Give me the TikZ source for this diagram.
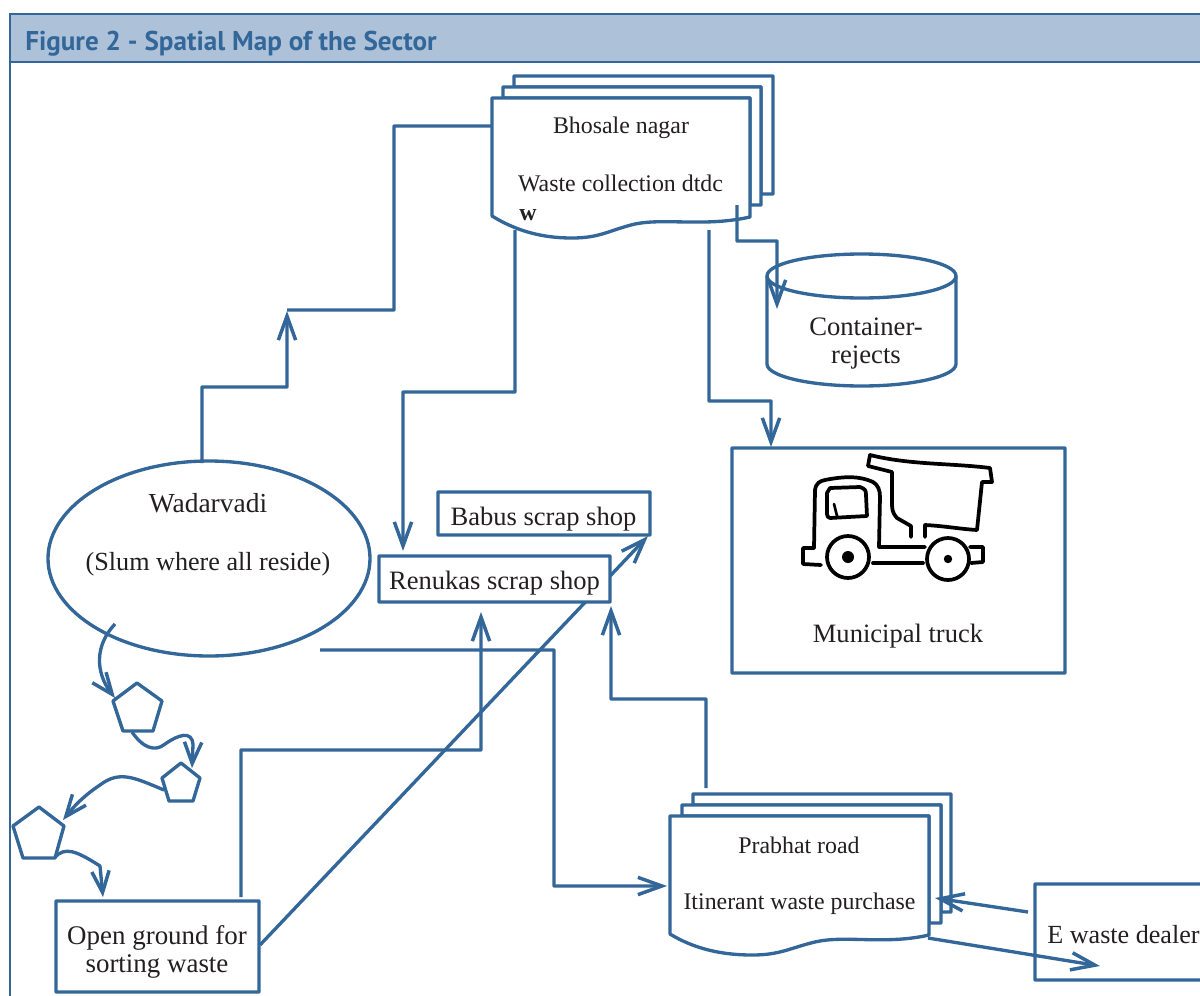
\documentclass[tikz,border=0pt]{standalone}
\usepackage{fontspec}
\setmainfont{Liberation Serif}
\newfontfamily\headfont{PT Sans}
\usetikzlibrary{arrows.meta}
\definecolor{lineblue}{HTML}{336699}
\definecolor{bandblue}{HTML}{ADC2D8}
\definecolor{inktext}{HTML}{231F20}
\tikzset{
  shapeline/.style={draw=lineblue,line width=2.5pt,line join=miter,fill=white,rounded corners=0.4pt},
  boxline/.style={draw=lineblue,line width=2.5pt,fill=white,inner sep=0pt,outer sep=0pt,anchor=north west,rounded corners=0.4pt},
  conn/.style={draw=lineblue,line width=2.5pt,line join=miter,rounded corners=0.4pt},
  arrowconn/.style={conn,-{Straight Barb[length=18pt,width=13pt,line width=2.6pt]}},
  curveconn/.style={conn,-{Straight Barb[length=16pt,width=13pt,line width=2.6pt]}},
  truckline/.style={draw=black,line width=2.8pt,line cap=round,line join=round},
  lab/.style={inner sep=0pt,text=inktext,font=\fontsize{19.9}{21}\selectfont,align=center},
  smalllab/.style={inner sep=0pt,text=inktext,font=\fontsize{17.9}{20}\selectfont,align=center},
}
\begin{document}
\begin{tikzpicture}[x=0.75pt,y=-0.75pt]
\useasboundingbox (0,0) rectangle (1200,996);
\clip (0,0) rectangle (1200,996);
% frame and band
\fill[white] (0,0) rectangle (1200,996);
\path[fill=bandblue,draw=lineblue,line width=0.9pt] (1201,14) -- (10,14) -- (10,62) -- (1201,62);
\draw[lineblue,line width=1.1pt] (10,62) -- (10,997);
\node[inner sep=0pt,anchor=west,text=lineblue,font=\headfont\bfseries\fontsize{20.35}{24}\selectfont] (title) at (25,44) {Figure 2 - Spatial Map of the Sector};

% the line to Babus runs behind the Renukas box
\coordinate (groundEast) at (260,945);
\coordinate (babusSW) at (648,536);
\draw[arrowconn] (groundEast) -- (babusSW);

% Bhosale nagar stacked document
\path[shapeline] (514,87) -- (514,76) -- (773,76) -- (773,194) -- (761,194) -- (761,87) -- cycle;
\path[shapeline] (503,98) -- (503,87) -- (761,87) -- (761,205) -- (750,205) -- (750,98) -- cycle;
\path[shapeline] (492,98) -- (750,98) -- (750,217) .. controls (705,227) and (665,218) .. (635,224) .. controls (610,230) and (600,238) .. (572,238) .. controls (540,238) and (515,230) .. (492,216) -- cycle;
\node[smalllab] (bhosale) at (621,128) {Bhosale nagar};
\node[smalllab] (wastecoll) at (620.5,183.5) {Waste collection dtdc};
\node[smalllab,font=\bfseries\fontsize{17.9}{20}\selectfont] (wasteW) at (528,215) {w};

% Container
\path[shapeline,rounded corners=0pt] (767,276) -- (767,364) arc[start angle=180,end angle=0,x radius=94.5,y radius=22] -- (956,276) arc[start angle=0,end angle=-180,x radius=94.5,y radius=22] -- cycle;
\draw[conn,rounded corners=0pt] (767,276) arc[start angle=180,end angle=0,x radius=94.5,y radius=22];
\node[lab,align=center,font=\fontsize{20}{21}\selectfont] (container) at (866,344) {Container-\\rejects};

% Municipal truck box
\node[boxline,minimum width=249.75pt,minimum height=168.75pt] (truckbox) at (732,448) {};
\node[lab] (municipal) at (898,636) {Municipal truck};
\draw[truckline] (911,537) -- (911,526) -- (897,518) .. controls (892,512) and (892,510) .. (892,500) -- (892,472) -- (868,466) -- (870,455) .. controls (910,465) and (950,463) .. (990,468) -- (992,482) -- (982,482) -- (977,530) .. controls (960,529) and (945,526) .. (925,525) -- (925,537);
\draw[truckline] (814,548) -- (815,490) .. controls (816,483) and (820,481) .. (825,480) .. controls (845,476) and (860,476) .. (873,482) .. controls (878,485) and (880,490) .. (880,497) -- (879,547) -- (925,547);
\draw[truckline] (873,563) -- (923,563);
\draw[truckline] (814,548) -- (803,548) -- (803,564) -- (821,565);
\draw[truckline] (970,547) -- (983,547) -- (983,562) -- (971,563);
\draw[truckline] (830,488) -- (860,487) .. controls (865,489) and (866,490) .. (866,495) -- (867,516) -- (830,518) .. controls (828,518) and (827,516) .. (827,514) -- (827,493) -- cycle;
\draw[truckline,line width=2pt] (834,504) -- (837,516);
\draw[truckline] (848,557) circle[radius=21];
\fill[black] (848,557) circle[radius=6];
\draw[truckline] (948,559) circle[radius=21];
\fill[black] (948,559) circle[radius=4.2];

% Wadarvadi
\path[shapeline] (209,558.5) ellipse[x radius=161,y radius=97.5];
\node[lab,font=\fontsize{20.6}{21}\selectfont] (wadarvadi) at (208,503.5) {Wadarvadi};
\node[lab,font=\fontsize{19.6}{21}\selectfont] (slum) at (208,564) {(Slum where all reside)};

% Scrap shops
\node[boxline,minimum width=159pt,minimum height=32.25pt] (babusbox) at (438,492) {};
\node[lab] (babus) at (543.5,519) {Babus scrap shop};
\node[boxline,minimum width=173.25pt,minimum height=34.5pt] (renukasbox) at (379,556) {};
\node[lab] (renukas) at (494.5,583) {Renukas scrap shop};

% Open ground
\node[boxline,minimum width=152.25pt,minimum height=68.25pt] (groundbox) at (56,901) {};
\node[lab,font=\fontsize{20.2}{21}\selectfont] (ground) at (157,951.5) {Open ground for\\sorting waste};

% Prabhat road stacked document
\path[shapeline] (693,805) -- (693,794) -- (951,794) -- (951,912) -- (941,912) -- (941,805) -- cycle;
\path[shapeline] (682,816) -- (682,805) -- (941,805) -- (941,923) -- (929,923) -- (929,816) -- cycle;
\path[shapeline] (670,816) -- (929,816) -- (929,935) .. controls (885,945) and (845,935) .. (815,942) .. controls (790,948) and (780,955) .. (752,955) .. controls (720,955) and (693,948) .. (670,934) -- cycle;
\node[smalllab] (prabhat) at (799,845.5) {Prabhat road};
\node[smalllab] (itinerant) at (799.5,904) {Itinerant waste purchase};

% E waste dealer
\path[shapeline] (1202,884) -- (1035,884) -- (1035,980) -- (1202,980);
\node[lab,font=\fontsize{19.6}{21}\selectfont,anchor=west] (ewaste) at (1047,935) {E waste dealer};

% pentagons
\path[shapeline] (137,683) -- (162,701) -- (153,731) -- (123,731) -- (113,701) -- cycle;
\path[shapeline] (181,763) -- (200,778) -- (193,801) -- (169,801) -- (162,778) -- cycle;
\path[shapeline] (39,807) -- (64,826) -- (55,858) -- (23,858) -- (13,826) -- cycle;
\coordinate (pentaA) at (115,698);
\coordinate (pentaAout) at (132,732);
\coordinate (pentaB) at (192,768);
\coordinate (pentaBout) at (164,790);
\coordinate (pentaC) at (63,820);
\coordinate (pentaCout) at (55,857);
\coordinate (slumOut) at (115,624);
\coordinate (groundTop) at (103,897);
\draw[curveconn] (slumOut) .. controls (95,645) and (95,672) .. (pentaA);
\draw[curveconn] (pentaAout) .. controls (143,748) and (155,752) .. (165,744) .. controls (178,735) and (192,730) .. (193,745) -- (pentaB);
\draw[curveconn] (pentaBout) .. controls (135,778) and (120,770) .. (100,785) .. controls (85,795) and (75,805) .. (pentaC);
\draw[curveconn] (pentaCout) .. controls (65,847) and (75,850) .. (100,866) -- (groundTop);

% connectors
\coordinate (wadTop) at (202,463);
\coordinate (stepEnd) at (287,311);
\coordinate (stepStart) at (287,310);
\coordinate (docWest) at (491,126);
\coordinate (docS1) at (515,230);
\coordinate (renTop) at (403,551);
\coordinate (docS2) at (709,230);
\coordinate (truckTop) at (771,447);
\coordinate (docS3) at (737,205);
\coordinate (contTop) at (777,309);
\coordinate (wadEast) at (320,650);
\coordinate (prabWest) at (667,886);
\coordinate (groundUp) at (241,897);
\coordinate (renBot) at (481,612);
\coordinate (prabTop) at (706,788);
\coordinate (renBotR) at (611,606);
\coordinate (eWest) at (1028,912);
\coordinate (prabEast) at (935,898);
\coordinate (prabOut) at (928,938);
\coordinate (eIn) at (1100,966);
\draw[arrowconn] (wadTop) -- (202,387) -- (287,387) -- (stepEnd);
\draw[conn] (stepStart) -- (394,310) -- (394,126) -- (docWest);
\draw[arrowconn] (docS1) -- (515,392) -- (403,392) -- (renTop);
\draw[arrowconn] (docS2) -- (709,401) -- (771,401) -- (truckTop);
\draw[arrowconn] (docS3) -- (737,241) -- (777,241) -- (contTop);
\draw[arrowconn] (wadEast) -- (554,650) -- (554,886) -- (prabWest);
\draw[arrowconn] (groundUp) -- (241,750) -- (481,750) -- (renBot);
\draw[arrowconn] (prabTop) -- (706,699) -- (611,699) -- (renBotR);
\draw[arrowconn] (eWest) -- (prabEast);
\draw[arrowconn] (prabOut) -- (eIn);
\end{tikzpicture}
\end{document}
